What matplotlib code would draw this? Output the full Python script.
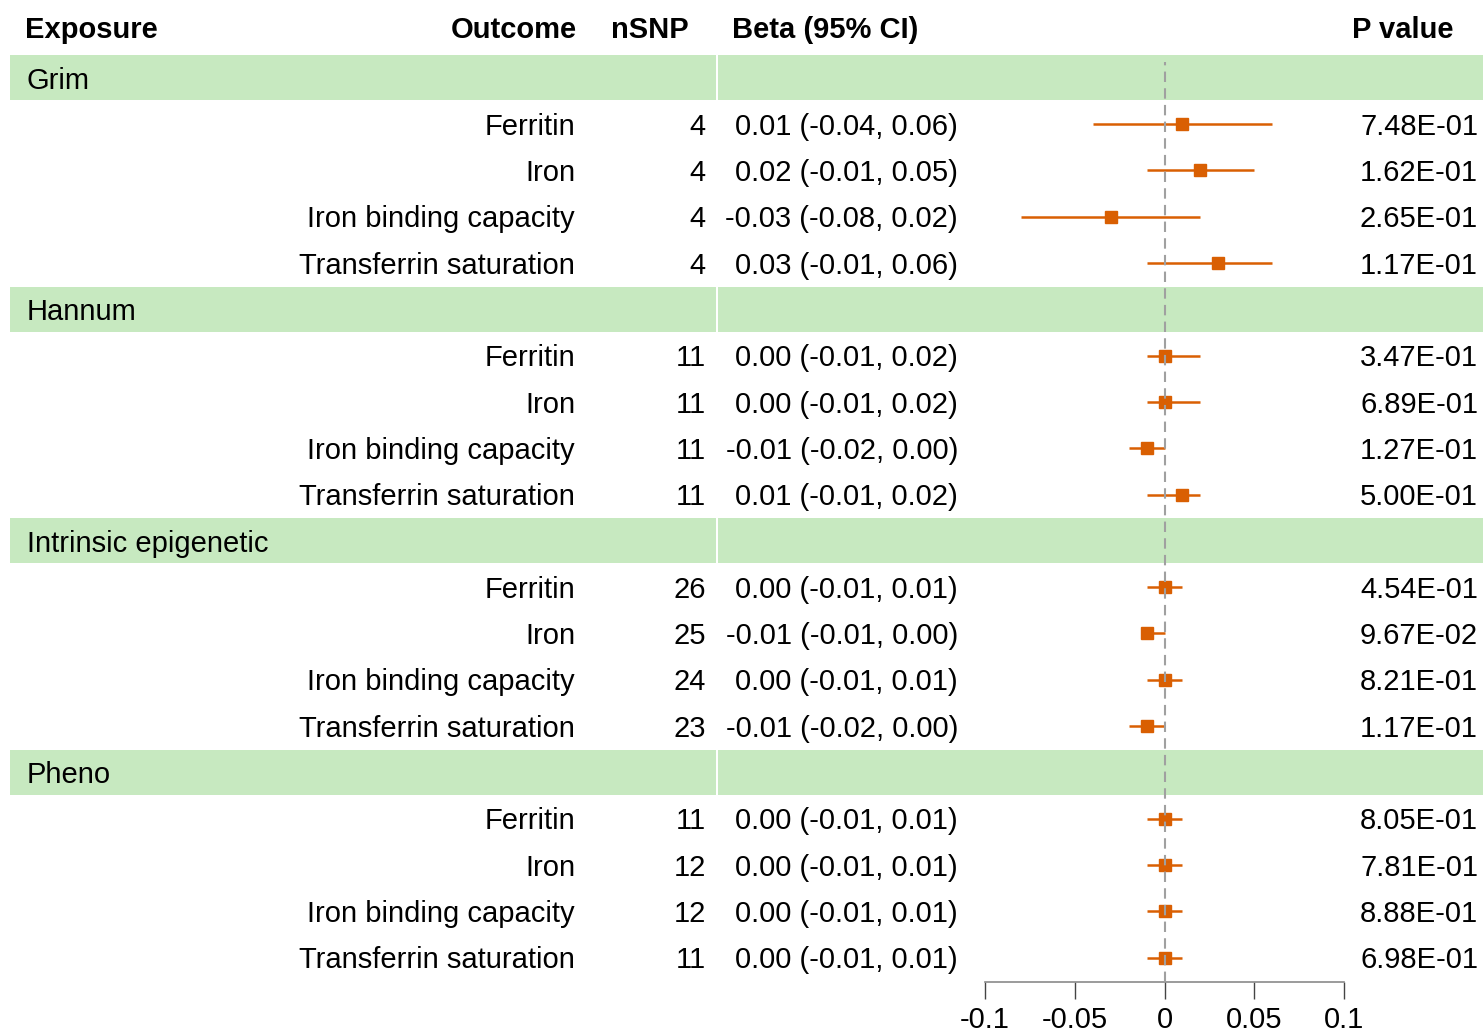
import matplotlib
matplotlib.use("Agg")
import matplotlib.pyplot as plt
from matplotlib.patches import Rectangle

plt.rcParams['font.family'] = ['Liberation Sans', 'DejaVu Sans']

# ---------------- data ----------------
exposures = ["Grim", "Hannum", "Intrinsic epigenetic", "Pheno"]
outcomes = ["Ferritin", "Iron", "Iron binding capacity", "Transferrin saturation"]
nsnp = [[4, 4, 4, 4],
        [11, 11, 11, 11],
        [26, 25, 24, 23],
        [11, 12, 12, 11]]
beta = [[0.01, 0.02, -0.03, 0.03],
        [0.00, 0.00, -0.01, 0.01],
        [0.00, -0.01, 0.00, -0.01],
        [0.00, 0.00, 0.00, 0.00]]
ci_low = [[-0.04, -0.01, -0.08, -0.01],
          [-0.01, -0.01, -0.02, -0.01],
          [-0.01, -0.01, -0.01, -0.02],
          [-0.01, -0.01, -0.01, -0.01]]
ci_high = [[0.06, 0.05, 0.02, 0.06],
           [0.02, 0.02, 0.00, 0.02],
           [0.01, 0.00, 0.01, 0.00],
           [0.01, 0.01, 0.01, 0.01]]
pvals = [["7.48E-01", "1.62E-01", "2.65E-01", "1.17E-01"],
         ["3.47E-01", "6.89E-01", "1.27E-01", "5.00E-01"],
         ["4.54E-01", "9.67E-02", "8.21E-01", "1.17E-01"],
         ["8.05E-01", "7.81E-01", "8.88E-01", "6.98E-01"]]
headers = ["Exposure", "Outcome", "nSNP", "Beta (95% CI)", "P value"]
xticks = [-0.1, -0.05, 0, 0.05, 0.1]
xticklabels = ["-0.1", "-0.05", "0", "0.05", "0.1"]

# ---------------- layout ----------------
W, H = 1483, 1032
row_h = 46.3
y0 = 31.5
def row_of(px):
    return (px - y0) / row_h

FS = 21
TXT_DY = 0.06  # small downward shift of text within rows
band_color = "#C7E9C0"
pt_color = "#D95F02"

fig = plt.figure(figsize=(W / 100, H / 100), dpi=100)
ax = fig.add_axes([0, 0, 1, 1])
ax.set_xlim(0, W)
ax.set_ylim(row_of(H), row_of(0))
ax.axis('off')

# headers
hy = row_of(30)
ax.text(25, hy, headers[0], ha='left', va='center', fontsize=FS, fontweight='bold')
ax.text(577, hy, headers[1], ha='right', va='center', fontsize=FS, fontweight='bold')
ax.text(689, hy, headers[2], ha='right', va='center', fontsize=FS, fontweight='bold')
ax.text(732, hy, headers[3], ha='left', va='center', fontsize=FS, fontweight='bold')
ax.text(1453, hy, headers[4], ha='right', va='center', fontsize=FS, fontweight='bold')

# forest axes
fx0, fx1, fy_bottom = 985, 1344, 982
fax = fig.add_axes([fx0 / W, (H - fy_bottom) / H, (fx1 - fx0) / W, fy_bottom / H])
fax.set_xlim(xticks[0], xticks[-1])
fax.set_ylim(row_of(fy_bottom), row_of(0))
fax.patch.set_alpha(0)
for s in ['top', 'left', 'right']:
    fax.spines[s].set_visible(False)
fax.spines['bottom'].set_color('#8a8a8a')
fax.spines['bottom'].set_linewidth(1.2)
fax.set_yticks([])
fax.set_xticks(xticks)
fax.set_xticklabels(xticklabels, fontsize=FS)
fax.tick_params(axis='x', length=12, width=1.0, color='#444444', pad=5)

row = 1
for gi, exp in enumerate(exposures):
    # band
    ax.add_patch(Rectangle((10, row - 0.485), 706, 0.97, facecolor=band_color, edgecolor='none', zorder=0))
    ax.add_patch(Rectangle((718, row - 0.485), W - 718, 0.97, facecolor=band_color, edgecolor='none', zorder=0))
    ax.text(27, row + TXT_DY, exp, ha='left', va='center', fontsize=FS)
    row += 1
    for oi, out in enumerate(outcomes):
        b, lo, hi = beta[gi][oi], ci_low[gi][oi], ci_high[gi][oi]
        ty = row + TXT_DY
        ax.text(575, ty, out, ha='right', va='center', fontsize=FS)
        ax.text(706, ty, str(nsnp[gi][oi]), ha='right', va='center', fontsize=FS)
        ax.text(958, ty, f"{b:.2f} ({lo:.2f}, {hi:.2f})", ha='right', va='center', fontsize=FS)
        ax.text(1478, ty, pvals[gi][oi], ha='right', va='center', fontsize=FS)
        fax.plot([lo, hi], [row, row], color=pt_color, lw=1.8, solid_capstyle='butt', zorder=2)
        fax.plot([b], [row], marker='s', color=pt_color, markersize=8, zorder=3)
        row += 1

ylo, yhi = fax.get_ylim()
fax.axvline(0, ymin=0, ymax=(ylo - 0.65) / (ylo - yhi),
            color='#a0a0a0', lw=1.5, ls=(0, (5, 3)), zorder=4)

fig.savefig("out.png", dpi=100)
